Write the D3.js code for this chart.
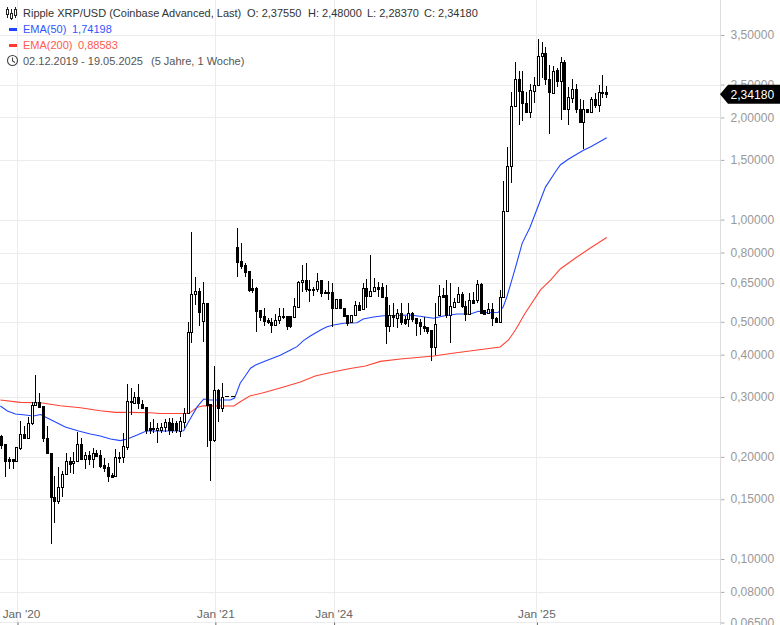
<!DOCTYPE html>
<html>
<head>
<meta charset="utf-8">
<script src="https://cdn.jsdelivr.net/npm/d3@7"></script>
<style>
html,body{margin:0;padding:0;background:#fff;overflow:hidden}
svg{display:block;font-family:"Liberation Sans",Arial,sans-serif}
</style>
</head>
<body>
<svg id="c" width="780" height="625"></svg>
<script>
const opens=[.2303,.2181,.1970,.1970,.1943,.2123,.2335,.2272,.2516,.2843,.2901,.2824,.2272,.2052,.1523,.1481,.1630,.1779,.1943,.1917,.1943,.2181,.1970,.2024,.1970,.2052,.2024,.1891,.1866,.1767,.1755,.1997,.1997,.2137,.2921,.2882,.3002,.2862,.2805,.2432,.2432,.2399,.2399,.2448,.2533,.2516,.2516,.2383,.2533,.2693,.4666,.6038,.6163,.5028,.5680,.2862,.2241,.3148,.2786,null,null,null,.8316,.7559,.7356,.7060,.6290,.6290,.5417,.5201,.5062,.4994,.4893,.5062,.5166,.5201,.5201,.5166,.5528,.6551,.6641,.6247,.6247,.6247,.6641,.6121,.6121,.6121,.5491,.5837,.5491,.5236,.4994,.5236,.5604,.5454,.6290,.5957,.6163,.6332,.6332,.5916,.4860,.5236,.5131,.5308,.5096,.5096,.5308,.5131,.4994,.4860,.4827,.4730,.4216,.5236,.5997,.5997,.5236,.5528,.5719,.6038,.5566,.5272,.5797,.5797,.6463,.5417,.5308,.5454,.5131,.4994,.5916,1.062,1.439,2.162,2.597,2.394,2.207,2.075,2.394,2.493,3.034,3.094,2.597,2.362,2.760,2.562,2.913,2.118,2.283,2.426,2.118,1.940,2.118,2.075,2.268,2.177,2.378,2.3755];
const highs=[.2319,.2181,.1997,.1970,.2137,.2550,.2465,.2620,.2901,.3484,.3084,.2824,.2465,.2052,.1755,.1866,.1816,.2052,.1997,.2066,.2367,.2272,.2066,.2080,.2123,.2094,.2094,.1983,.1917,.1791,.2108,.2066,.2351,.3278,.3191,.3105,.3278,.2941,.2805,.2533,.2585,.2516,.2516,.2585,.2603,.2603,.2550,.2620,.2786,.4994,.9191,.6778,.6290,.6551,.5680,.2862,.3703,.3169,.3301,null,null,null,.9444,.8546,.7457,.7060,.6686,.6332,.5417,.5491,.5131,.5131,.5272,.5491,.5491,.5201,.5201,.5876,.6596,.7356,.7457,.6641,.6332,.6965,.6641,.6205,.6596,.6507,.5837,.5837,.5491,.5236,.5236,.5758,.5719,.6507,.6686,.7875,.6732,.6551,.6507,.6419,.5604,.5680,.5454,.5680,.5201,.5680,.5344,.5131,.5096,.5166,.4827,.4730,.5680,.6419,.6290,.6641,.6507,.5876,.6332,.6121,.5758,.6079,.6121,.6641,.6507,.5417,.5680,.5680,.5166,.6205,1.299,1.638,2.378,2.913,2.741,2.741,2.378,2.510,2.632,3.405,3.336,3.225,2.855,2.835,2.797,3.013,2.953,2.459,2.597,2.510,2.268,2.252,2.118,2.299,2.362,2.493,2.668,2.48];
const lows=[.2108,.1743,.1841,.1841,.1943,.2094,.2272,.2272,.2482,.2843,.2805,.2211,.2052,.1107,.1277,.1453,.1523,.1779,.1791,.1779,.1943,.1970,.1841,.1891,.1853,.1997,.1853,.1804,.1685,.1732,.1755,.1917,.1917,.2094,.2656,.2882,.2767,.2767,.2335,.2335,.2351,.2196,.2351,.2367,.2319,.2351,.2351,.2288,.2432,.2693,.4331,.5604,.4860,.4360,.2137,.1697,.2211,.2533,.2711,null,null,null,.6778,.7157,.6778,.6121,.6079,.4666,.5028,.4860,.4926,.4635,.4860,.4926,.5096,.4730,.4795,.5166,.5528,.6121,.6121,.5719,.5957,.6121,.5916,.6038,.5797,.4827,.5454,.5491,.5201,.4860,.4994,.5236,.5417,.5417,.5491,.5957,.6121,.5916,.5916,.4302,.4666,.4827,.4795,.4893,.4893,.4827,.4994,.4541,.4572,.4666,.4603,.3835,.3985,.5236,.5916,.5131,.4331,.5491,.5680,.5491,.5028,.5236,.5642,.5680,.5308,.5272,.5308,.4860,.4960,.4994,.5916,1.055,1.282,2.147,1.901,1.953,2.075,1.993,2.207,2.476,2.615,2.493,1.788,2.346,2.459,1.966,2.104,1.901,2.207,2.061,1.940,1.616,2.061,2.061,2.133,2.075,2.283,2.2837];
const closes=[.2167,.1943,.1943,.1943,.2137,.2335,.2272,.2516,.2843,.2901,.2805,.2272,.2052,.1523,.1481,.1630,.1779,.1943,.1904,.1943,.2181,.1970,.2024,.1970,.2052,.2010,.1878,.1853,.1755,.1743,.1997,.1983,.2152,.2921,.2901,.3002,.2882,.2786,.2399,.2399,.2415,.2432,.2448,.2533,.2399,.2399,.2399,.2550,.2693,.4666,.6038,.6163,.5344,.5680,.2843,.2241,.3148,.2786,.3002,null,null,null,.7508,.7306,.7012,.6205,.6205,.5380,.5166,.5028,.4994,.4893,.5062,.5201,.5201,.4860,.4860,.5566,.6551,.6641,.6247,.6205,.6205,.6596,.6079,.6079,.6079,.5491,.5837,.5491,.5201,.4960,.5236,.5604,.5417,.6290,.5957,.6163,.6332,.6247,.5916,.4860,.5236,.5166,.5308,.4994,.4960,.5308,.5096,.4960,.4860,.4795,.4698,.4216,.4926,.5957,.5916,.5236,.5566,.5719,.6038,.5566,.5272,.5797,.5680,.6463,.5308,.5272,.5454,.5131,.4994,.5916,1.062,1.439,2.162,2.597,2.394,2.207,2.075,2.410,2.493,3.034,3.094,2.597,2.378,2.741,2.562,2.913,2.118,2.299,2.426,2.118,1.940,2.118,2.075,2.268,2.177,2.378,2.362,2.3418];

const ema50Index=[-0.35,1.5,3.6,6.2,8.3,10.2,12,14.1,16.7,20.2,23.3,25.9,28.6,31.2,33,35.6,38,42.5,47.8,49.1,51.4,53.1,54.8,60.1,61.2,62.7,64,65.4,66.7,69.3,73.2,75.9,77.6,79.3,81.1,83.8,85.5,87.2,89.9,93.4,95,97.7,100.3,107.4,110.8,113.5,116.1,119.7,123.2,125.3,127.6,130.5,131.8,132.8,135,136.8,138.8,141.6,142.9,145.5,146.8,148.9,153,154.7,159];
const ema50Values=[.2824,.2729,.2674,.2656,.2638,.2665,.2603,.2533,.2448,.2383,.2335,.2303,.2257,.2233,.2257,.2319,.2383,.2383,.2388,.2538,.2811,.2961,.2941,.2941,.2981,.3301,.3460,.3650,.3731,.3835,.3985,.4130,.4224,.4399,.4541,.4730,.4837,.4893,.4950,.4970,.5096,.5166,.5211,.5236,.5176,.5120,.5201,.5272,.5272,.5369,.5319,.5333,.5528,.5935,.7205,.8528,.9462,1.142,1.247,1.381,1.449,1.506,1.604,1.638,1.74198];
const ema200Index=[-0.35,4.9,10.2,15.4,20.7,25.9,29.9,33.3,39.1,41.7,48.3,49.6,51.4,53.1,61,62.7,65.2,68.5,73.2,78.5,82.4,87.6,91.6,95.6,99.5,104.8,113.5,118,125,131,133.2,135,137.6,141.6,144.3,146.8,150.8,154.7,159];
const ema200Values=[.2941,.2895,.2887,.2830,.2792,.2735,.2705,.2705,.2697,.2685,.2685,.2705,.2799,.2830,.2824,.2907,.3022,.3084,.3191,.3324,.3460,.3568,.3641,.3703,.3822,.3884,.3964,.4033,.4129,.4216,.4420,.4730,.5308,.6205,.6641,.7157,.7706,.825,.88583];

const gapIndex=[58.6,61.5];
const gapPrice=.3022;

const priceTicks=[3.5,2.5,2,1.5,1,.8,.65,.5,.4,.3,.2,.15,.1,.08,.065];
const priceLabels=["3,50000","2,50000","2,00000","1,50000","1,00000","0,80000","0,65000","0,50000","0,40000","0,30000","0,20000","0,15000","0,10000","0,08000","0,06500"];
const timeTicks=[4.15,56.15,87.35,140.65];
const timeLabels=["Jan '20","Jan '21","Jan '24","Jan '25"];
const timeLabelShift=[3.5,0,-0.5,-0.5];
const lastPrice=2.3418;
const lastLabel="2,34180";

const svg=d3.select("#c");
const H=625,axisX=720.5,gridBottom=622.5;
const x=d3.scaleLinear().domain([0,159]).range([1.7,606.7]);
const y=d3.scaleLog().domain([.1,3.5]).range([559,35]);

// grid
const g=svg.append("g").attr("shape-rendering","crispEdges");
g.selectAll("line.h").data(priceTicks).join("line").attr("x1",0).attr("x2",axisX)
 .attr("y1",d=>Math.round(y(d))+.5).attr("y2",d=>Math.round(y(d))+.5).attr("stroke","#ececec");
g.selectAll("line.v").data(timeTicks).join("line").attr("y1",0).attr("y2",gridBottom)
 .attr("x1",d=>Math.floor(x(d))+.5).attr("x2",d=>Math.floor(x(d))+.5).attr("stroke","#ececec");

// y axis
const ya=d3.axisRight(y).tickValues(priceTicks).tickSize(4).tickPadding(6)
 .tickFormat((d,i)=>priceLabels[i]);
const yG=svg.append("g").attr("transform",`translate(${axisX},0)`).call(ya);
yG.select(".domain").remove();
yG.selectAll("line").attr("stroke","#aaa");
yG.selectAll("text").attr("fill","#999").attr("font-size",12.1).attr("font-family","Liberation Sans").attr("dy","0.3em");
svg.append("line").attr("x1",axisX).attr("x2",axisX).attr("y1",0).attr("y2",H).attr("stroke","#ddd").attr("shape-rendering","crispEdges");

// x axis
const xa=d3.axisBottom(x).tickValues(timeTicks).tickSize(3).tickPadding(0).tickFormat((d,i)=>timeLabels[i]);
const xG=svg.append("g").attr("transform",`translate(0,${gridBottom})`).call(xa);
xG.select(".domain").remove();
xG.selectAll("line").attr("stroke","#666");
xG.selectAll("text").attr("fill","#666").attr("font-size",11.8).attr("font-family","Liberation Sans")
 .attr("y",-4.5).attr("dy","0")
 .attr("transform",(d,i)=>`translate(${timeLabelShift[i]},0)`);

// EMAs
const line=d3.line().x(d=>x(d[0])).y(d=>y(d[1]));
svg.append("path").attr("d",line(ema200Index.map((d,i)=>[d,ema200Values[i]]))).attr("fill","none").attr("stroke","#ff4335").attr("stroke-width",1.1);
svg.append("path").attr("d",line(ema50Index.map((d,i)=>[d,ema50Values[i]]))).attr("fill","none").attr("stroke","#2146ff").attr("stroke-width",1.1);

// candles
const idx=d3.range(opens.length).filter(i=>opens[i]!==null);
const cg=svg.append("g").attr("shape-rendering","crispEdges");
const px=i=>Math.floor(x(i))+.5;
cg.selectAll("line").data(idx).join("line").attr("x1",px).attr("x2",px)
 .attr("y1",i=>y(highs[i])).attr("y2",i=>y(lows[i])).attr("stroke","#000");
cg.selectAll("rect").data(idx).join("rect")
 .attr("x",i=>px(i)-1).attr("width",2)
 .attr("y",i=>Math.round(y(Math.max(opens[i],closes[i])))+.5)
 .attr("height",i=>Math.max(1,Math.round(y(Math.min(opens[i],closes[i])))-Math.round(y(Math.max(opens[i],closes[i])))))
 .attr("fill",i=>closes[i]>=opens[i]?"#fff":"#000").attr("stroke","#000");

// gap marker
svg.append("line").attr("x1",x(gapIndex[0])).attr("x2",x(gapIndex[1]))
 .attr("y1",Math.round(y(gapPrice))+.5).attr("y2",Math.round(y(gapPrice))+.5)
 .attr("stroke","#000").attr("stroke-dasharray","4,2").attr("shape-rendering","crispEdges");

// last price tag
const ty=y(lastPrice);
svg.append("path").attr("d",d3.line()([[720,ty],[728,ty-9.5],[780,ty-9.5],[780,ty+9.5],[728,ty+9.5]])+"Z").attr("fill","#000");
svg.append("text").attr("x",730.5).attr("y",ty).attr("dy","0.36em").attr("fill","#fff").attr("font-size",12.1).text(lastLabel);

// legend
const legend=svg.append("g").attr("font-size",11);
const t=(x0,y0,c,s)=>legend.append("text").attr("x",x0).attr("y",y0).attr("fill",c).text(s);
t(23,16.5,"#333","Ripple XRP/USD (Coinbase Advanced, Last)");
t(247,16.5,"#333","O: 2,37550");
t(308,16.5,"#333","H: 2,48000");
t(367,16.5,"#333","L: 2,28370");
t(424,16.5,"#333","C: 2,34180");
t(23,32.5,"#3355ff","EMA(50)");
t(72,32.5,"#3355ff","1,74198");
t(23,48.5,"#ff5a4d","EMA(200)");
t(78,48.5,"#ff5a4d","0,88583");
t(23,64.5,"#555","02.12.2019 - 19.05.2025");
t(151,64.5,"#555","(5 Jahre, 1 Woche)");

// legend icons
const ic=svg.append("g").attr("stroke","#222").attr("fill","none").attr("shape-rendering","crispEdges");
[[7.5,7,18,9,14],[11.5,9,20,13,18],[15.5,7,18,9,15]].forEach(d=>{
 ic.append("line").attr("x1",d[0]).attr("x2",d[0]).attr("y1",d[1]).attr("y2",d[2]);
 ic.append("rect").attr("x",d[0]-1).attr("y",d[3]).attr("width",2).attr("height",d[4]-d[3]).attr("fill","#fff");
});
svg.append("rect").attr("x",9).attr("y",28).attr("width",8).attr("height",3).attr("fill","#1f44ff");
svg.append("rect").attr("x",9).attr("y",44).attr("width",8).attr("height",3).attr("fill","#ff3b2f");
const clock=svg.append("g").attr("stroke","#444").attr("fill","none").attr("stroke-width",1.1);
clock.append("circle").attr("cx",12.5).attr("cy",60.5).attr("r",5);
clock.append("path").attr("d","M12.5 57.5V61L15 62.5");
</script>
</body>
</html>
